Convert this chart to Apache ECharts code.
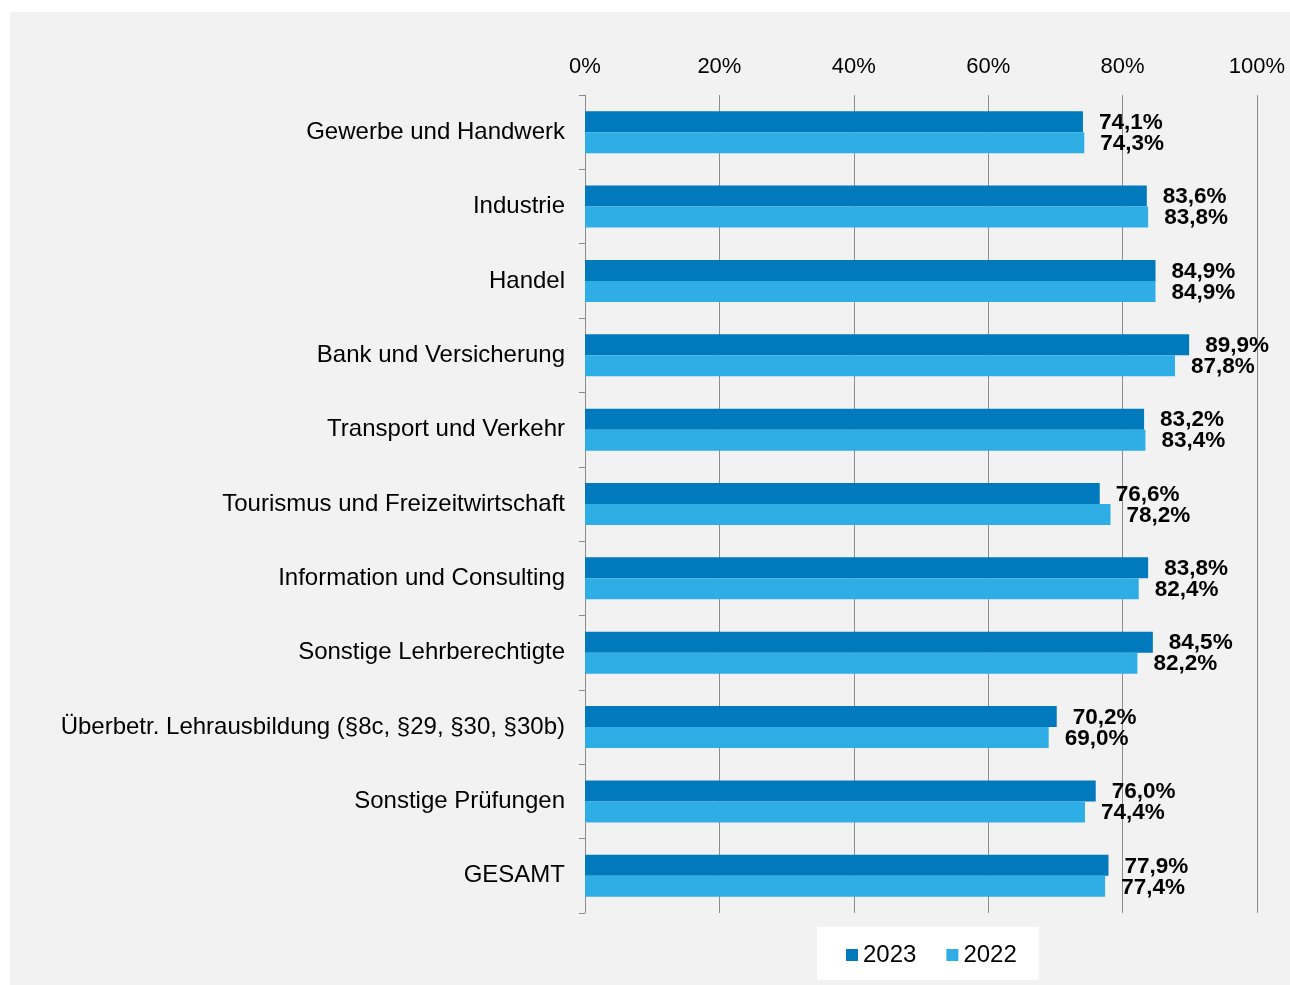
<!DOCTYPE html>
<html><head><meta charset="utf-8">
<script src="https://cdn.jsdelivr.net/npm/echarts@6/dist/echarts.min.js"></script>
<style>html,body{margin:0;padding:0;background:#fff;}#c{position:absolute;left:10px;top:12px;width:1280px;height:973px;background:#f2f2f2;}</style>
</head><body><div id="c"></div>
<script>
const categories = ['Gewerbe und Handwerk','Industrie','Handel','Bank und Versicherung','Transport und Verkehr','Tourismus und Freizeitwirtschaft','Information und Consulting','Sonstige Lehrberechtigte','Überbetr. Lehrausbildung (§8c, §29, §30, §30b)','Sonstige Prüfungen','GESAMT'];
const values2023 = [74.1,83.6,84.9,89.9,83.2,76.6,83.8,84.5,70.2,76.0,77.9];
const values2022 = [74.3,83.8,84.9,87.8,83.4,78.2,82.4,82.2,69.0,74.4,77.4];
const ticks = [0,20,40,60,80,100];
const FONT = 'Liberation Sans, Arial, sans-serif';
const chart = echarts.init(document.getElementById('c'));
const lbl = {show:true,position:'right',distance:16,offset:[0,1],fontFamily:FONT,fontWeight:'bold',fontSize:22.5,color:'#000',formatter:p=>p.value.toFixed(1).replace('.',',')+'%'};
chart.setOption({
  animation:false,
  backgroundColor:'#f2f2f2',
  grid:{left:575,right:33,top:83,bottom:72},
  xAxis:{type:'value',position:'top',min:ticks[0],max:ticks[ticks.length-1],interval:20,
    axisLine:{show:false},axisTick:{show:false},
    axisLabel:{formatter:'{value}%',fontFamily:FONT,fontSize:22,color:'#000',margin:17},
    splitLine:{lineStyle:{color:'#8c8c8c',width:1}}},
  yAxis:{type:'category',inverse:true,data:categories,
    axisLine:{lineStyle:{color:'#8c8c8c'}},
    axisTick:{show:true,length:6,lineStyle:{color:'#8c8c8c'}},
    axisLabel:{fontFamily:FONT,fontSize:24,color:'#000',margin:20}},
  legend:{bottom:5,left:807,data:['2023','2022'],backgroundColor:'#fff',padding:[16,22,13,29],
    itemWidth:12,itemHeight:12,itemGap:30,icon:'rect',textStyle:{fontFamily:FONT,fontSize:24,color:'#000'}},
  series:[
    {name:'2023',type:'bar',data:values2023,itemStyle:{color:'#0079bd'},barWidth:21,barGap:'0%',barCategoryGap:'42%',label:lbl},
    {name:'2022',type:'bar',data:values2022,itemStyle:{color:'#2eaee5'},barWidth:21,barGap:'0%',label:lbl}
  ]
});
</script></body></html>
